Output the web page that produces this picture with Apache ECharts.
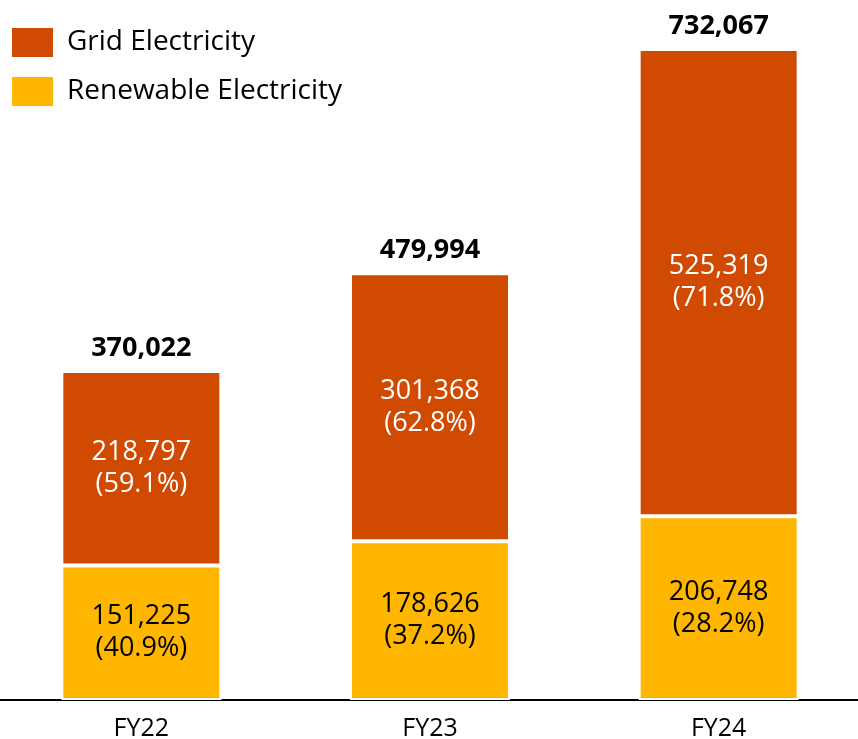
<!DOCTYPE html>
<html>
<head>
<meta charset="utf-8">
<script src="https://cdn.jsdelivr.net/npm/echarts@6/dist/echarts.min.js"></script>
<style>
  html, body { margin: 0; padding: 0; background: #fff; }
  #chart { width: 858px; height: 739px; }
</style>
</head>
<body>
<div id="chart"></div>
<script>
// Electricity consumption by fiscal year
const categories = ['FY22', 'FY23', 'FY24'];
const gridElectricity = [218797, 301368, 525319];
const renewableElectricity = [151225, 178626, 206748];
const gridShare = ['59.1%', '62.8%', '71.8%'];
const renewableShare = ['40.9%', '37.2%', '28.2%'];

const totals = categories.map((_, i) => gridElectricity[i] + renewableElectricity[i]);
const fmt = v => v.toLocaleString('en-US');

const FONT = 'Open Sans';
const chart = echarts.init(document.getElementById('chart'), null, { renderer: 'canvas' });

chart.setOption({
  animation: false,
  textStyle: { fontFamily: FONT },
  legend: {
    data: ['Grid Electricity', 'Renewable Electricity'],
    orient: 'vertical',
    left: 10,
    top: 26,
    padding: 0,
    itemWidth: 43,
    itemHeight: 31,
    itemGap: 16,
    icon: 'rect',
    selectedMode: false,
    textStyle: { fontFamily: FONT, fontSize: 28, lineHeight: 31, color: '#000', padding: [0, 0, 0, 8] }
  },
  grid: { left: -3, right: -5, top: 49, bottom: 39, containLabel: false, outerBoundsMode: 'none' },
  xAxis: {
    type: 'category',
    data: categories,
    axisLine: { lineStyle: { color: '#000', width: 2 } },
    axisTick: { show: false },
    axisLabel: { color: '#000', fontFamily: FONT, fontSize: 25, margin: 16 }
  },
  yAxis: {
    type: 'value',
    min: 0,
    max: 'dataMax',
    show: false,
    splitLine: { show: false }
  },
  series: [
    {
      name: 'Renewable Electricity',
      type: 'bar',
      stack: 'total',
      barWidth: 160,
      data: renewableElectricity,
      itemStyle: { color: '#FFB600', borderColor: '#fff', borderWidth: 2 },
      label: {
        show: true,
        position: 'inside',
        color: '#000',
        fontFamily: FONT,
        fontSize: 27,
        lineHeight: 32,
        formatter: p => fmt(p.value) + '\n(' + renewableShare[p.dataIndex] + ')'
      }
    },
    {
      name: 'Grid Electricity',
      type: 'bar',
      stack: 'total',
      barWidth: 160,
      data: gridElectricity,
      itemStyle: { color: '#D04A02', borderColor: '#fff', borderWidth: 2 },
      label: {
        show: true,
        position: 'inside',
        color: '#fff',
        fontFamily: FONT,
        fontSize: 27,
        lineHeight: 32,
        formatter: p => fmt(p.value) + '\n(' + gridShare[p.dataIndex] + ')'
      }
    },
    {
      name: 'Total',
      type: 'bar',
      stack: 'total',
      barWidth: 160,
      data: categories.map(() => 0),
      itemStyle: { color: 'transparent' },
      label: {
        show: true,
        position: 'top',
        distance: 9,
        color: '#000',
        fontFamily: FONT,
        fontWeight: 'bold',
        fontSize: 27,
        formatter: p => fmt(totals[p.dataIndex])
      }
    }
  ]
});
</script>
</body>
</html>
